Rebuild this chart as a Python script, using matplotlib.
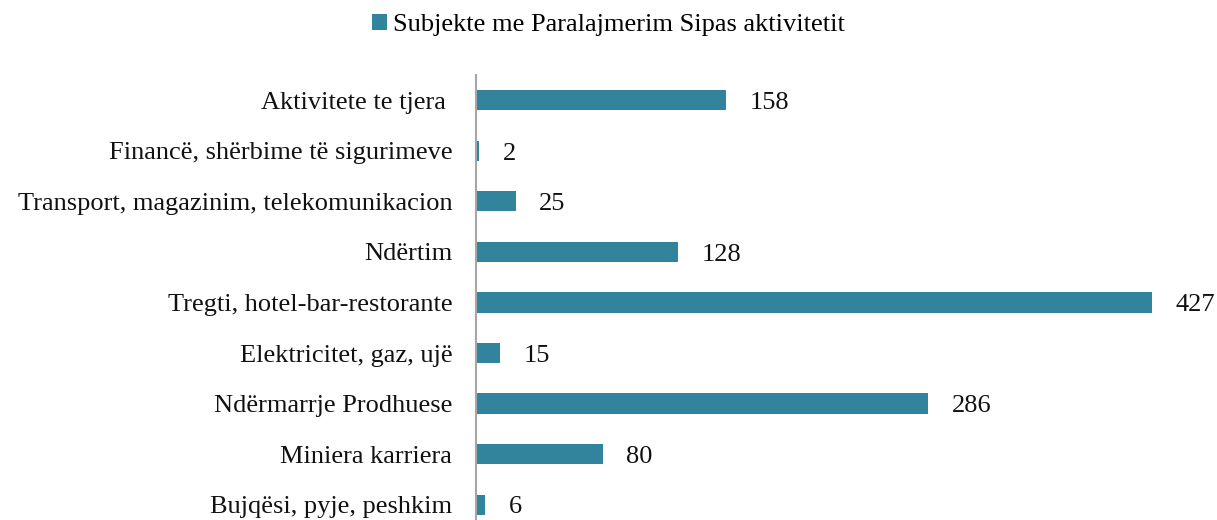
import matplotlib.pyplot as plt

kategorite = ["Bujqësi, pyje, peshkim", "Miniera karriera", "Ndërmarrje Prodhuese",
              "Elektricitet, gaz, ujë", "Tregti, hotel-bar-restorante", "Ndërtim",
              "Transport, magazinim, telekomunikacion", "Financë, shërbime të sigurimeve",
              "Aktivitete te tjera "]
vlerat = [6, 80, 286, 15, 427, 128, 25, 2, 158]
seria = "Subjekte me Paralajmerim Sipas aktivitetit"
ngjyra = "#31849B"

plt.rcParams["font.family"] = ["Liberation Serif", "DejaVu Serif"]

fig = plt.figure(figsize=(12.17, 5.2), dpi=100)
ax = fig.add_axes([0.3911, -0.0192, 0.598, 0.875])

bars = ax.barh(kategorite, vlerat, height=0.4, color=ngjyra, label=seria)
for b, v in zip(bars, vlerat):
    ax.annotate(str(v), (b.get_width(), b.get_y() + b.get_height() / 2),
                xytext=(17, -2), textcoords="offset points",
                va="center", ha="left", fontsize=19, color="#111111")

ax.set_xlim(0, 460)
ax.set_ylim(-0.5, len(kategorite) - 0.5)
for s in ["top", "right", "bottom"]:
    ax.spines[s].set_visible(False)
ax.spines["left"].set_color("#A6A6A6")
ax.spines["left"].set_linewidth(1.5)
ax.set_xticks([])
ax.tick_params(axis="y", length=0, pad=17, labelsize=19, labelcolor="#111111")

fig.legend(loc="center", bbox_to_anchor=(0.5, 0.952), frameon=False, fontsize=19,
           handlelength=0.55, handleheight=0.55, handletextpad=0.25)

fig.savefig("out.png", dpi=100)
